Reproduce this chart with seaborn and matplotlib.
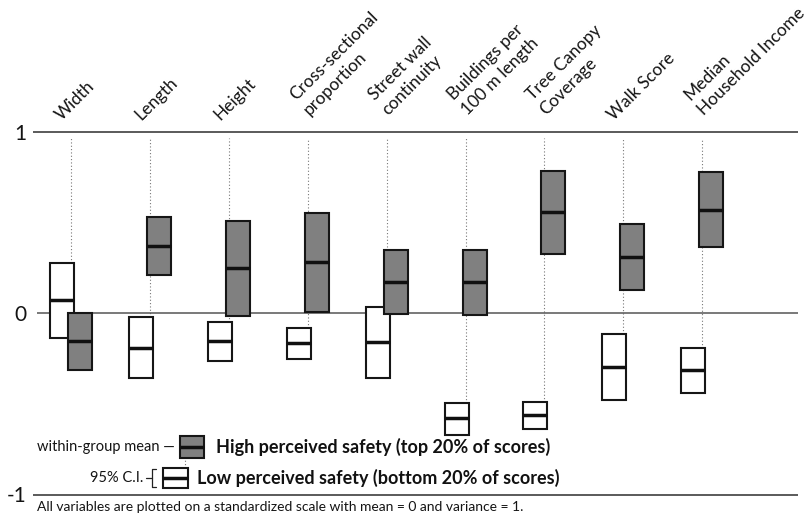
import numpy as np
import pandas as pd
import matplotlib
matplotlib.use("Agg")
import matplotlib.pyplot as plt
import seaborn as sns

# Street-level variables (each entry holds the lines of its column heading)
variables = [
    ["Width"],
    ["Length"],
    ["Height"],
    ["Cross-sectional", "proportion"],
    ["Street wall", "continuity"],
    ["Buildings per", "100 m length"],
    ["Tree Canopy", "Coverage"],
    ["Walk Score"],
    ["Median", "Household Income"],
]

# High perceived safety (top 20% of scores): mean and 95% C.I.
high_mean = [-0.154, 0.369, 0.246, 0.279, 0.169, 0.169, 0.556, 0.309, 0.569]
high_lo = [-0.316, 0.208, -0.015, 0.004, -0.007, -0.009, 0.327, 0.125, 0.364]
high_hi = [0.000, 0.529, 0.507, 0.551, 0.349, 0.349, 0.782, 0.492, 0.775]

# Low perceived safety (bottom 20% of scores): mean and 95% C.I.
low_mean = [0.070, -0.191, -0.156, -0.167, -0.160, -0.580, -0.562, -0.298, -0.314]
low_lo = [-0.136, -0.360, -0.264, -0.255, -0.358, -0.674, -0.637, -0.478, -0.439]
low_hi = [0.274, -0.022, -0.051, -0.081, 0.035, -0.494, -0.489, -0.116, -0.193]

ytick_values = [-1, 0, 1]
ytick_labels = ["-1", "0", "1"]

sns.set_theme(style="white")
plt.rcParams["font.family"] = ["Lato", "DejaVu Sans"]

W, H = 809, 516
fig = plt.figure(figsize=(W / 100, H / 100), dpi=100)
fig.patch.set_facecolor("white")

# frame geometry in pixels
X0_PX, STEP_PX = 71.0, 78.9      # first column, column spacing
Y0_PX, UNIT_PX = 313.0, 181.5    # zero line, one standard unit
LEFT_PX, RIGHT_PX = 33, 798


def px_x(px):
    return (px - X0_PX) / STEP_PX


def px_y(py):
    return (Y0_PX - py) / UNIT_PX


ax = fig.add_axes([LEFT_PX / W, 0, (RIGHT_PX - LEFT_PX) / W, 1])
ax.set_facecolor("white")

EDGE = "#161616"
GRAY = "#808080"
pos = np.arange(len(variables))
box_w = 24 / STEP_PX
shift = 9 / STEP_PX

groups = [
    (low_lo, low_hi, low_mean, -shift, "white"),
    (high_lo, high_hi, high_mean, +shift, GRAY),
]
for lo, hi, mean, dx, face in groups:
    lo = np.asarray(lo)
    hi = np.asarray(hi)
    df = pd.DataFrame({"pos": pos + dx, "span": hi - lo})
    sns.barplot(data=df, x="pos", y="span", native_scale=True, width=box_w,
                bottom=lo, color=face, saturation=1, edgecolor=EDGE,
                linewidth=1.5, errorbar=None, ax=ax, zorder=3)
    ax.hlines(mean, pos + dx - box_w / 2, pos + dx + box_w / 2,
              color="#101010", lw=2.5, zorder=4)

# dotted guides from the top line down to the lower box of each pair
lower_top = np.minimum(high_hi, low_hi)
ax.vlines(pos, lower_top, 0.965, colors="#777777", linestyles=(0, (1, 2)),
          lw=0.8, zorder=1)

# reference lines
ax.axhline(1, color="#5a5a5a", lw=1.4, zorder=2)
ax.axhline(-1, color="#5a5a5a", lw=1.4, zorder=2)
ax.hlines(0, px_x(37), px_x(RIGHT_PX), color="#555555", lw=1.1, zorder=2)

# column headings
for i, lines in enumerate(variables):
    anchors = [(-9, 121)] if len(lines) == 1 else [(-12, 101), (2, 116)]
    for text, (dxp, yp) in zip(lines, anchors):
        ax.text(i + dxp / STEP_PX, px_y(yp), text, rotation=45,
                rotation_mode="anchor", ha="left", va="baseline",
                fontsize=12.5, color="#141414", clip_on=False)

# legend keys
def key_box(x0, x1, y0, y1, face):
    ax.bar(px_x((x0 + x1) / 2), px_y(y0) - px_y(y1), width=(x1 - x0) / STEP_PX,
           bottom=px_y(y1), color=face, edgecolor=EDGE, linewidth=1.5, zorder=3)
    ax.hlines(px_y((y0 + y1) / 2), px_x(x0), px_x(x1), color="#101010",
              lw=2.5, zorder=4)


key_box(180, 204, 436, 458, GRAY)
key_box(163, 188, 468, 488, "white")
ax.vlines(px_x(185), px_y(468), px_y(458), colors="#777777",
          linestyles=(0, (1, 2)), lw=0.8, zorder=1)

ax.text(px_x(175), px_y(447), "within-group mean \u2014", ha="right",
        va="center", fontsize=10.5, color="#141414")
ax.text(px_x(216), px_y(447), "High perceived safety (top 20% of scores)",
        ha="left", va="center", fontsize=13, fontweight="bold", color="#111111")
ax.text(px_x(143), px_y(478), "95% C.I.", ha="right", va="center",
        fontsize=10.5, color="#141414")
ax.plot([px_x(146), px_x(152)], [px_y(478), px_y(478)], color="#222222", lw=0.9)
ax.plot([px_x(156), px_x(152), px_x(152), px_x(156)],
        [px_y(469), px_y(469), px_y(487), px_y(487)], color="#222222", lw=0.9)
ax.text(px_x(197), px_y(478), "Low perceived safety (bottom 20% of scores)",
        ha="left", va="center", fontsize=13, fontweight="bold", color="#111111")

ax.text(px_x(37), px_y(507),
        "All variables are plotted on a standardized scale with mean = 0 and variance = 1.",
        ha="left", va="center", fontsize=10, color="#141414", clip_on=False)

# axes styling
ax.set_xlim(px_x(LEFT_PX), px_x(RIGHT_PX))
ax.set_ylim(px_y(H), px_y(0))
ax.set_yticks(ytick_values, ytick_labels)
ax.set_xticks([])
ax.set_xlabel("")
ax.set_ylabel("")
ax.tick_params(axis="y", length=0, pad=5, labelsize=15, labelcolor="#141414")
for spine in ax.spines.values():
    spine.set_visible(False)

fig.savefig("out.png", dpi=100, facecolor="white")
